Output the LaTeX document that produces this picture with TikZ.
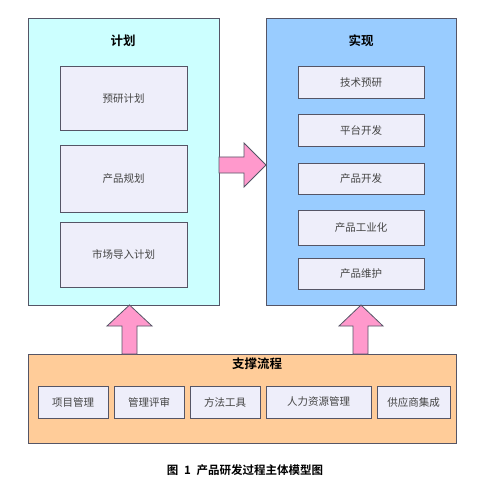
\documentclass[tikz,border=0pt]{standalone}
\usepackage{fontspec}
\setmainfont{Noto Sans CJK SC}[BoldFont={Noto Sans CJK SC Bold}]
\definecolor{cplan}{HTML}{CCFFFF}
\definecolor{creal}{HTML}{99CCFF}
\definecolor{csupp}{HTML}{FFCC99}
\definecolor{cinner}{HTML}{EEEEFA}
\definecolor{carrow}{HTML}{FF99CC}
\definecolor{cline}{HTML}{555566}
\definecolor{ctext}{HTML}{444444}
\begin{document}
\begin{tikzpicture}[x=1pt,y=-1pt,
  outerbox/.style={draw=cline,line width=1pt},
  innerbox/.style={draw=cline,line width=1pt,fill=cinner},
  itext/.style={font=\fontsize{10.5}{12}\selectfont,text=ctext},
  ttext/.style={font=\fontsize{12.5}{14}\selectfont\bfseries,text=black},
  arrowshape/.style={draw=cline,line width=0.8pt,fill=carrow,line join=miter}]
\useasboundingbox (0,0) rectangle (480,481);
% outer boxes
\draw[outerbox,fill=cplan] (28,19) rectangle (219,305);
\draw[outerbox,fill=creal] (266,19) rectangle (456,305);
\draw[outerbox,fill=csupp] (28,354) rectangle (456,443);
\node[ttext] (tplan) at (123,41) {计划};
\node[ttext] (treal) at (361,41) {实现};
\node[ttext] (tsupp) at (257,364) {支撑流程};
% left inner
\draw[innerbox] (60,67) rectangle (187,131);
\node[itext] (p1) at (123.5,99) {预研计划};
\draw[innerbox] (60,146) rectangle (187,212);
\node[itext] (p2) at (123.5,179) {产品规划};
\draw[innerbox] (60,222) rectangle (187,287);
\node[itext] (p3) at (123.5,254.5) {市场导入计划};
% right inner
\draw[innerbox] (298,67) rectangle (424,99);
\node[itext] (r1) at (361,83) {技术预研};
\draw[innerbox] (298,115) rectangle (424,147);
\node[itext] (r2) at (361,131) {平台开发};
\draw[innerbox] (298,163) rectangle (424,194);
\node[itext] (r3) at (361,178.5) {产品开发};
\draw[innerbox] (298,210) rectangle (424,245);
\node[itext] (r4) at (361,227.5) {产品工业化};
\draw[innerbox] (298,258) rectangle (424,289);
\node[itext] (r5) at (361,273.5) {产品维护};
% bottom inner
\draw[innerbox] (38,386) rectangle (108,418);
\node[itext] (s1) at (73,402) {项目管理};
\draw[innerbox] (114,386) rectangle (184,418);
\node[itext] (s2) at (149,402) {管理评审};
\draw[innerbox] (190,386) rectangle (260,418);
\node[itext] (s3) at (225,402) {方法工具};
\draw[innerbox] (266,386) rectangle (371,418);
\node[itext] (s4) at (318.5,402) {人力资源管理};
\draw[innerbox] (377,386) rectangle (450,418);
\node[itext] (s5) at (413.5,402) {供应商集成};
% arrows
\draw[arrowshape] (219,157) -- (244,157) -- (244,143) -- (266,165) -- (244,187) -- (244,173) -- (219,173) -- cycle;
\draw[arrowshape] (122,354) -- (122,326) -- (107,326) -- (129.5,305) -- (152,326) -- (137,326) -- (137,354) -- cycle;
\draw[arrowshape] (353,354) -- (353,326) -- (339,326) -- (361,305) -- (383,326) -- (368,326) -- (368,354) -- cycle;
% caption
\node[font=\fontsize{11.5}{13}\selectfont\bfseries] (cap) at (245,470) {图\hspace{0.5em}1\hspace{0.5em}产品研发过程主体模型图};
\end{tikzpicture}
\end{document}
